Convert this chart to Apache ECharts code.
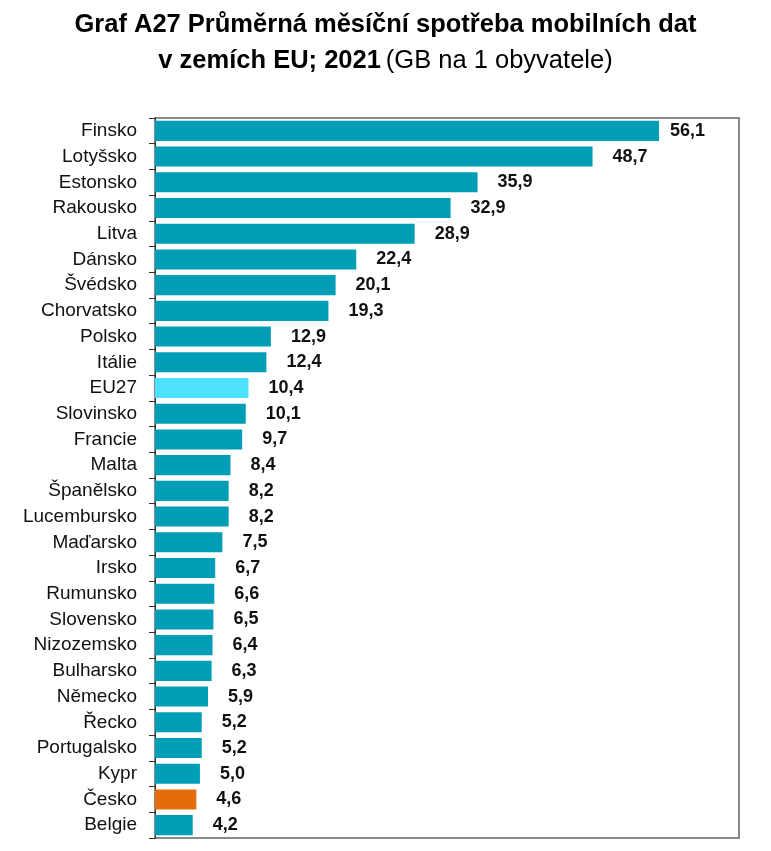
<!DOCTYPE html>
<html>
<head>
<meta charset="utf-8">
<script src="https://cdn.jsdelivr.net/npm/echarts@6/dist/echarts.min.js"></script>
<style>
  html, body { margin: 0; padding: 0; background: #fff; }
  #chart { width: 771px; height: 851px; }
</style>
</head>
<body>
<div id="chart"></div>
<script type="text/javascript">
	// zeme a hodnoty (GB na 1 obyvatele, mesicne)
	var countries = ['Finsko', 'Lotyšsko', 'Estonsko', 'Rakousko', 'Litva', 'Dánsko', 'Švédsko', 'Chorvatsko',
		'Polsko', 'Itálie', 'EU27', 'Slovinsko', 'Francie', 'Malta', 'Španělsko', 'Lucembursko', 'Maďarsko',
		'Irsko', 'Rumunsko', 'Slovensko', 'Nizozemsko', 'Bulharsko', 'Německo', 'Řecko', 'Portugalsko',
		'Kypr', 'Česko', 'Belgie'];
	var values = [56.1, 48.7, 35.9, 32.9, 28.9, 22.4, 20.1, 19.3, 12.9, 12.4, 10.4, 10.1, 9.7, 8.4, 8.2, 8.2, 7.5,
		6.7, 6.6, 6.5, 6.4, 6.3, 5.9, 5.2, 5.2, 5.0, 4.6, 4.2];
	var highlight = { 'EU27': '#4de3ff', 'Česko': '#e46c0a' };

	var chart = echarts.init(document.getElementById('chart'));
	var option = {
		animation: false,
		textStyle: { fontFamily: 'Liberation Sans, Arial, sans-serif' },
		title: {
			text: '{b|Graf A27 Průměrná měsíční spotřeba mobilních dat}\n{b|v zemích EU; 2021} {n|(GB na 1 obyvatele)}',
			left: 'center',
			top: 2,
			textStyle: {
				rich: {
					b: { fontSize: 25.5, fontWeight: 'bold', color: '#000', lineHeight: 36, fontFamily: 'Liberation Sans' },
					n: { fontSize: 25.5, fontWeight: 'normal', color: '#000', lineHeight: 36, fontFamily: 'Liberation Sans' }
				}
			}
		},
		grid: {
			left: 155, right: 32, top: 118, bottom: 13,
			show: true,
			borderColor: '#8a8a8a',
			borderWidth: 2
		},
		xAxis: {
			type: 'value',
			min: 0,
			max: 65,
			show: false,
			splitLine: { show: false }
		},
		yAxis: {
			type: 'category',
			inverse: true,
			data: countries,
			axisLine: { show: true, lineStyle: { color: '#333', width: 1 } },
			axisTick: { show: true, length: 6, lineStyle: { color: '#333' } },
			axisLabel: { fontSize: 19, color: '#111', margin: 18 }
		},
		series: [
			{
				type: 'bar',
				barCategoryGap: '22%',
				data: values.map(function (v, i) {
					var c = highlight[countries[i]];
					var item = { value: v };
					if (c) item.itemStyle = { color: c };
					if (i === 0) item.label = { distance: 11 };
					return item;
				}),
				itemStyle: { color: '#009db6' },
				label: {
					show: true,
					position: 'right',
					distance: 20,
					fontSize: 18,
					fontWeight: 'bold',
					color: '#111',
					formatter: function (p) {
						return p.value.toFixed(1).replace('.', ',');
					}
				}
			}
		]
	};
	chart.setOption(option);
	window.onresize = function () {
		chart.resize();
	};
</script>
</body>
</html>
